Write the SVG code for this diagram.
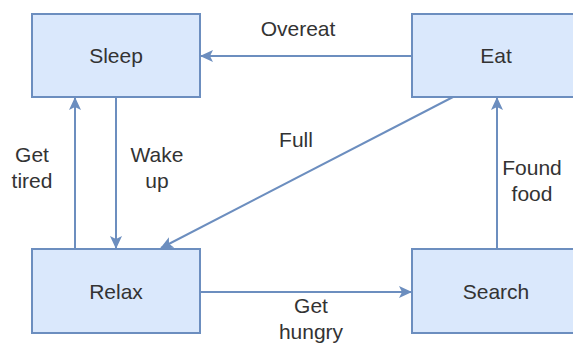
<svg xmlns="http://www.w3.org/2000/svg" width="573" height="343" viewBox="0 0 573 343">
<style>
.box{fill:#dae8fc;stroke:#6c8ebf;stroke-width:2}
.lbl{font-family:"Liberation Sans",Arial,sans-serif;font-size:21px;fill:#333;text-anchor:middle}
.edge{fill:none;stroke:#6c8ebf;stroke-width:2}
</style>
<defs>
<marker id="arr" markerWidth="14" markerHeight="12" refX="12" refY="6" orient="auto" markerUnits="userSpaceOnUse">
<path d="M0,0 L13,6 L0,12 L3,6 Z" fill="#6c8ebf"/>
</marker>
</defs>
<rect width="573" height="343" fill="#fff"/>
<g id="connectors">
<line class="edge" x1="412" y1="56" x2="201" y2="56" marker-end="url(#arr)"/>
<line class="edge" x1="75" y1="249" x2="75" y2="98" marker-end="url(#arr)"/>
<line class="edge" x1="116" y1="97" x2="116" y2="248" marker-end="url(#arr)"/>
<line class="edge" x1="453" y1="97" x2="161" y2="248" marker-end="url(#arr)"/>
<line class="edge" x1="497" y1="249" x2="497" y2="98" marker-end="url(#arr)"/>
<line class="edge" x1="200" y1="292" x2="411" y2="292" marker-end="url(#arr)"/>
<text class="lbl" x="298" y="36">Overeat</text>
<text class="lbl" x="32" y="162">Get</text>
<text class="lbl" x="32" y="188">tired</text>
<text class="lbl" x="157" y="162">Wake</text>
<text class="lbl" x="157" y="188">up</text>
<text class="lbl" x="296" y="147">Full</text>
<text class="lbl" x="532" y="175">Found</text>
<text class="lbl" x="532" y="201">food</text>
<text class="lbl" x="311" y="313">Get</text>
<text class="lbl" x="311" y="339">hungry</text>
</g>
<g id="sleep"><rect class="box" x="32" y="14" width="168" height="83"/><text class="lbl" x="116" y="63">Sleep</text></g>
<g id="eat"><rect class="box" x="412" y="14" width="168" height="83"/><text class="lbl" x="496" y="63">Eat</text></g>
<g id="relax"><rect class="box" x="32" y="249" width="168" height="84"/><text class="lbl" x="116" y="299">Relax</text></g>
<g id="search"><rect class="box" x="412" y="249" width="168" height="84"/><text class="lbl" x="496" y="299">Search</text></g>
</svg>
